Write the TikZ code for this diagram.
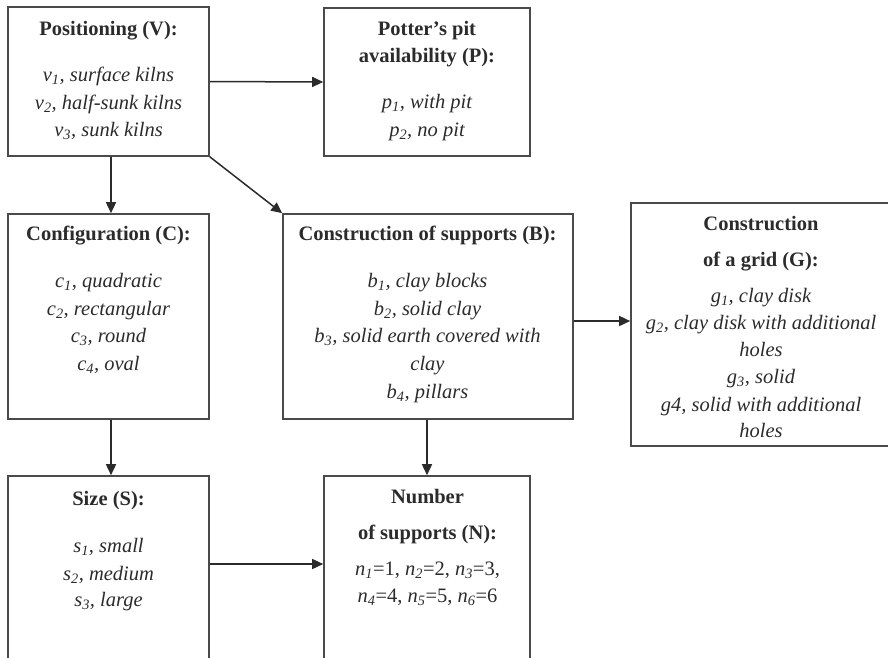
\documentclass[tikz,border=0pt]{standalone}
\usepackage{fontspec}
\setmainfont{Liberation Serif}
\usetikzlibrary{arrows.meta}
\definecolor{boxc}{HTML}{4A4A4A}
\definecolor{txtc}{HTML}{2B2B2B}
\begin{document}
\begin{tikzpicture}[x=1pt,y=-1pt,
  box/.style={draw=boxc, line width=1.6pt, rectangle, inner sep=0pt},
  ttl/.style={anchor=base, font=\fontsize{20.5}{24}\selectfont\bfseries, text=txtc, inner sep=0pt},
  itm/.style={anchor=base, font=\fontsize{20.5}{24}\selectfont\itshape, text=txtc, inner sep=0pt},
  arr/.style={draw=txtc, line width=1.5pt, -{Triangle[length=11pt,width=10pt]}}]
\useasboundingbox (0,0) rectangle (888,657);
\clip (0,0) rectangle (888,657);
% boxes
\node[box, minimum width=201pt, minimum height=149pt] (V) at (108.5,81.5) {};
\node[box, minimum width=206pt, minimum height=148pt] (P) at (427,82) {};
\node[box, minimum width=201pt, minimum height=205pt] (C) at (108.5,316.5) {};
\node[box, minimum width=290pt, minimum height=205pt] (B) at (428,316.5) {};
\node[box, minimum width=260pt, minimum height=243pt] (G) at (761,324.5) {};
\node[box, minimum width=201pt, minimum height=224pt] (S) at (108.5,588) {};
\node[box, minimum width=206pt, minimum height=224pt] (N) at (427,588) {};
% texts V
\node[ttl] (Vt) at (108.5,35) {Positioning (V):};
\node[itm] (V1) at (108.5,81.5) {v\textsubscript{1}, surface kilns};
\node[itm] (V2) at (108.5,109.5) {v\textsubscript{2}, half-sunk kilns};
\node[itm] (V3) at (108.5,136.5) {v\textsubscript{3}, sunk kilns};
% texts P
\node[ttl] (Pt1) at (427,35) {Potter’s pit};
\node[ttl] (Pt2) at (427,62.7) {availability (P):};
\node[itm] (P1) at (427,108.5) {p\textsubscript{1}, with pit};
\node[itm] (P2) at (427,136) {p\textsubscript{2}, no pit};
% texts C
\node[ttl] (Ct) at (108.5,240.5) {Configuration (C):};
\node[itm] (C1) at (108.5,287.5) {c\textsubscript{1}, quadratic};
\node[itm] (C2) at (108.5,315) {c\textsubscript{2}, rectangular};
\node[itm] (C3) at (108.5,342.5) {c\textsubscript{3}, round};
\node[itm] (C4) at (108.5,370) {c\textsubscript{4}, oval};
% texts B
\node[ttl] (Bt) at (427.5,240.5) {Construction of supports (B):};
\node[itm] (B1) at (427.5,287.5) {b\textsubscript{1}, clay blocks};
\node[itm] (B2) at (427.5,315) {b\textsubscript{2}, solid clay};
\node[itm] (B3) at (427.5,342.5) {b\textsubscript{3}, solid earth covered with};
\node[itm] (B3b) at (427.5,370) {clay};
\node[itm] (B4) at (427.5,398) {b\textsubscript{4}, pillars};
% texts G
\node[ttl] (Gt1) at (761,230.5) {Construction};
\node[ttl] (Gt2) at (761,266) {of a grid (G):};
\node[itm] (G1) at (761,302) {g\textsubscript{1}, clay disk};
\node[itm] (G2) at (761,329) {g\textsubscript{2}, clay disk with additional};
\node[itm] (G2b) at (761,356) {holes};
\node[itm] (G3) at (761,383.5) {g\textsubscript{3}, solid};
\node[itm] (G4) at (761,411) {g4, solid with additional};
\node[itm] (G4b) at (761,437.5) {holes};
% texts S
\node[ttl] (St) at (108.5,505) {Size (S):};
\node[itm] (S1) at (108.5,552.7) {s\textsubscript{1}, small};
\node[itm] (S2) at (108.5,580) {s\textsubscript{2}, medium};
\node[itm] (S3) at (108.5,606.7) {s\textsubscript{3}, large};
% texts N
\node[ttl] (Nt1) at (427.5,503.3) {Number};
\node[ttl] (Nt2) at (427.5,539.3) {of supports (N):};
\node[itm, font=\fontsize{20.5}{24}\selectfont\upshape] (N1) at (427.5,575) {\textit{n\textsubscript{1}}=1, \textit{n\textsubscript{2}}=2, \textit{n\textsubscript{3}}=3,};
\node[itm, font=\fontsize{20.5}{24}\selectfont\upshape] (N2) at (427.5,602.7) {\textit{n\textsubscript{4}}=4, \textit{n\textsubscript{5}}=5, \textit{n\textsubscript{6}}=6};
% connectors
\draw[arr] (V.east) -- (P.west);
\draw[arr] ([xshift=2.5pt]V.south) -- ([xshift=2.5pt]C.north);
\draw[arr] (V.south east) -- (B.north west);
\path ([yshift=-4.5pt]B.east) coordinate (bg);
\draw[arr] (bg) -- (bg -| G.west);
\draw[arr] ([xshift=2.5pt]C.south) -- ([xshift=2.5pt]S.north);
\draw[arr] (N.north |- B.south) -- (N.north);
\draw[arr] ([yshift=24pt]S.east) -- ([yshift=24pt]N.west);
\end{tikzpicture}
\end{document}
